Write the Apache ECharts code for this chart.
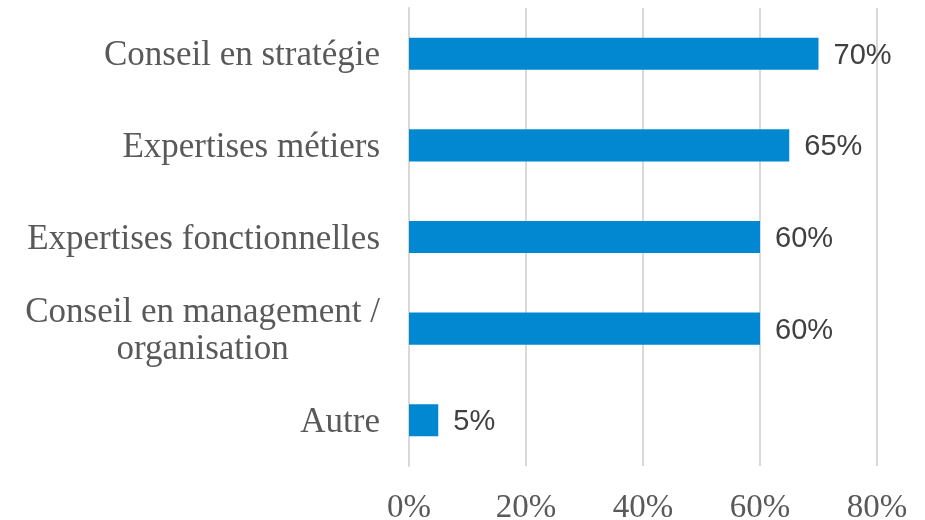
<!DOCTYPE html>
<html>
<head>
<meta charset="utf-8">
<script src="https://cdn.jsdelivr.net/npm/echarts@6/dist/echarts.min.js"></script>
<style>html,body{margin:0;padding:0;background:#fff;}#c{width:925px;height:520px;}</style>
</head>
<body>
<div id="c"></div>
<script>
var categories = ['Conseil en stratégie', 'Expertises métiers', 'Expertises fonctionnelles', 'Conseil en management /\norganisation', 'Autre'];
var values = [70, 65, 60, 60, 5];
var tickValues = [0, 20, 40, 60, 80];

var chart = echarts.init(document.getElementById('c'), null, {renderer: 'canvas'});
chart.setOption({
  animation: false,
  backgroundColor: '#ffffff',
  grid: {left: 409, right: 48, top: 8, bottom: 54, containLabel: false, outerBoundsMode: 'none'},
  xAxis: {
    type: 'value',
    min: tickValues[0],
    max: tickValues[tickValues.length - 1],
    interval: 20,
    axisLine: {show: false},
    axisTick: {show: false},
    splitLine: {show: true, lineStyle: {color: '#d9d9d9', width: 2}},
    axisLabel: {
      formatter: '{value}%',
      fontFamily: 'Liberation Serif',
      fontSize: 33,
      color: '#595959',
      margin: 26
    }
  },
  yAxis: {
    type: 'category',
    data: categories,
    inverse: true,
    axisLine: {show: true, lineStyle: {color: '#d9d9d9', width: 2}},
    axisTick: {show: false},
    axisLabel: {
      margin: 29,
      fontFamily: 'Liberation Serif',
      fontSize: 35,
      color: '#595959',
      formatter: function (v) {
        return v.split('\n').map(function (s) { return '{c|' + s + '}'; }).join('\n');
      },
      rich: {
        c: {align: 'center', fontFamily: 'Liberation Serif', fontSize: 35, color: '#595959', lineHeight: 37, padding: [5, 0, 0, 0]}
      }
    }
  },
  series: [{
    type: 'bar',
    data: values,
    barWidth: '35%',
    itemStyle: {color: '#0288D1'},
    label: {
      show: true,
      position: 'right',
      distance: 15,
      offset: [0, 2],
      formatter: '{c}%',
      fontFamily: 'Liberation Sans',
      fontSize: 29,
      color: '#404040'
    }
  }]
});
</script>
</body>
</html>
